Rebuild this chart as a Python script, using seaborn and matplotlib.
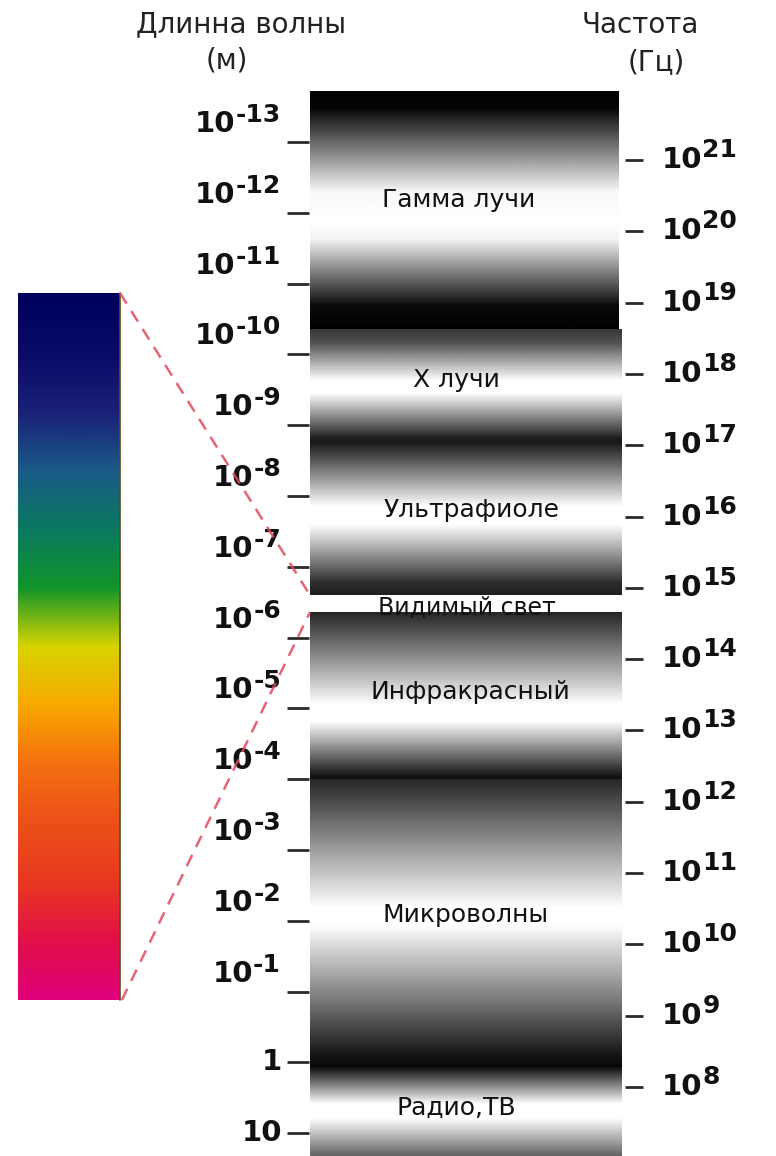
import numpy as np
import matplotlib.pyplot as plt
import seaborn as sns
from matplotlib.patches import Rectangle

# ---------------------------------------------------------------------------
# data
# ---------------------------------------------------------------------------
wl_exponents = list(range(-13, 2))          # wavelength ticks, 10^-13 ... 10 m
freq_exponents = list(range(21, 7, -1))     # frequency ticks, 10^21 ... 10^8 Hz

band_names = ['Гамма лучи', 'Х лучи', 'Ультрафиоле', 'Видимый свет',
              'Инфракрасный', 'Микроволны', 'Радио,ТВ']
# band edges on the wavelength scale (log10 of metres), top -> bottom
band_edges = [-13.72, -10.35, -8.75, -6.60, -6.36, -3.99, 0.04, 1.40]

# grey shading of each band: (relative position, grey level) top -> bottom
band_shading = [
    [(0, 0.0), (0.07, 0.02), (0.42, 0.97), (0.55, 1.0), (0.62, 0.95), (0.90, 0.04), (1, 0.0)],
    [(0, 0.22), (0.12, 0.32), (0.45, 1.0), (0.56, 1.0), (0.95, 0.14), (1, 0.08)],
    [(0, 0.10), (0.10, 0.30), (0.42, 1.0), (0.54, 1.0), (0.92, 0.18), (1, 0.12)],
    [(0, 1.0), (1, 1.0)],
    [(0, 0.15), (0.30, 0.60), (0.55, 1.0), (0.65, 1.0), (0.97, 0.10), (1, 0.05)],
    [(0, 0.15), (0.45, 1.0), (0.51, 1.0), (0.97, 0.08), (1, 0.05)],
    [(0, 0.0), (0.10, 0.25), (0.40, 1.0), (0.55, 1.0), (1, 0.30)],
]

spectrum_colors = ['#00005e', '#0a0a68', '#1a2078', '#1a5a88', '#0a7a60',
                   '#10952a', '#d8d400', '#f8a800', '#f47010', '#ec5018',
                   '#e83820', '#e21048', '#e0007a']

# ---------------------------------------------------------------------------
# layout
# ---------------------------------------------------------------------------
sns.set_theme(style='white')
plt.rcParams['font.family'] = ['DejaVu Sans']

fig = plt.figure(figsize=(7.76, 11.56), dpi=100)
ax = fig.add_axes([0, 0, 1, 1])
ax2 = ax.twinx()

wl_lim = (1.322, -15.006)     # bottom, top of the figure on the wavelength scale
fr_lim = (7.031, 23.244)      # same for the frequency scale

bar_x0, bar_x1 = 0.3995, 0.8015
label_pos = [(0.5915, -12.18), (0.5876, -9.64), (0.608, -7.80), (0.602, -6.42),
             (0.606, -5.23), (0.6005, -2.08), (0.5876, 0.644)]

# --- grey bands -------------------------------------------------------------
rows = np.linspace(0, 1, 256)
for i, name in enumerate(band_names):
    top, bot = band_edges[i], band_edges[i + 1]
    right = bar_x1 - 0.005 if i == 0 else bar_x1
    pos, val = zip(*band_shading[i])
    grad = np.interp(rows, pos, val)[:, None]
    ax.imshow(grad, cmap='gray', vmin=0, vmax=1, aspect='auto',
              extent=(bar_x0, right, bot, top), origin='upper',
              interpolation='bilinear', zorder=1)
    if i == 3:
        rect = Rectangle((bar_x0, top), right - bar_x0, bot - top,
                         facecolor='white', edgecolor='none', zorder=2)
        ax.add_patch(rect)
        t = ax.text(*label_pos[i], name, ha='center', va='center',
                    fontsize=17, color='#111111', zorder=3)
        t.set_clip_path(rect)
    else:
        ax.text(*label_pos[i], name, ha='center', va='center',
                fontsize=18, color='#111111', zorder=3)

# --- colour spectrum on the left --------------------------------------------
spec_cmap = sns.blend_palette(spectrum_colors, n_colors=256, as_cmap=True)
ax.imshow(rows[:, None], cmap=spec_cmap, aspect='auto',
          extent=(0.0232, 0.1546, -0.881, -10.867), origin='upper',
          interpolation='bilinear', zorder=1)
ax.plot([0.1546, 0.1546], [-0.881, -10.867], color='#5a4a20', lw=1.2, zorder=2)

# dashed guide lines from the spectrum to the visible band
ax.plot([0.1546, bar_x0], [-10.867, band_edges[3]], color='#e04a5a',
        lw=1.8, ls=(0, (5, 3.5)), alpha=0.85, zorder=5)
ax.plot([0.157, bar_x0], [-0.881, band_edges[4]], color='#e04a5a',
        lw=1.8, ls=(0, (5, 3.5)), alpha=0.85, zorder=5)

# --- wavelength ticks (left) ------------------------------------------------
LX = 0.362
for e in wl_exponents:
    ax.plot([0.370, 0.398], [e, e], color='#2a2a2a', lw=2,
            solid_capstyle='butt', zorder=2)
    if e >= 0:
        ax.text(LX + 0.002, e, '1' if e == 0 else '10', ha='right', va='center',
                fontsize=21, weight='bold', color='#111111')
    else:
        sup = ax.annotate(f'-{-e}', xy=(LX, e), xytext=(0, 15),
                          textcoords='offset pixels', ha='right', va='bottom',
                          fontsize=18, weight='bold', color='#111111')
        ax.annotate('10', xy=(0, 0), xycoords=sup, xytext=(0, -11),
                    textcoords='offset pixels', ha='right', va='bottom',
                    fontsize=21, weight='bold', color='#111111')

# --- frequency ticks (right) ------------------------------------------------
RX = 0.853
for f in freq_exponents:
    ax2.plot([0.805, 0.829], [f, f], color='#2a2a2a', lw=2,
             solid_capstyle='butt')
    base = ax2.annotate('10', xy=(RX, f), xytext=(0, 0),
                        textcoords='offset pixels', ha='left', va='center',
                        fontsize=21, weight='bold', color='#111111')
    ax2.annotate(str(f), xy=(1, 0.5), xycoords=base, xytext=(0, -2),
                 textcoords='offset pixels', ha='left', va='bottom',
                 fontsize=18, weight='bold', color='#111111')

# --- headers ----------------------------------------------------------------
fig.text(0.311, 0.979, 'Длинна волны', ha='center', va='center', fontsize=20, color='#222222')
fig.text(0.292, 0.948, '(м)', ha='center', va='center', fontsize=20, color='#222222')
fig.text(0.825, 0.978, 'Частота', ha='center', va='center', fontsize=20, color='#222222')
fig.text(0.846, 0.946, '(Гц)', ha='center', va='center', fontsize=20, color='#222222')

ax.set_xlim(0, 1)
ax.set_ylim(*wl_lim)
ax2.set_ylim(*fr_lim)
ax.axis('off')
ax2.axis('off')

fig.savefig('out.png', dpi=100)
